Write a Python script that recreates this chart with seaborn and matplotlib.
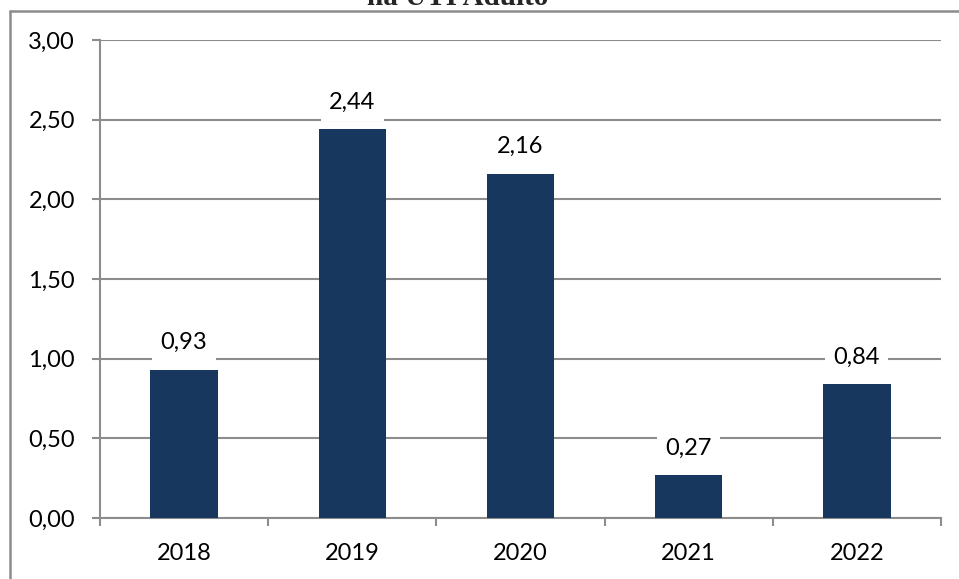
import matplotlib
matplotlib.use("Agg")
import matplotlib.pyplot as plt
from matplotlib.lines import Line2D
from matplotlib.ticker import FixedLocator, FuncFormatter
import seaborn as sns
import pandas as pd

# Data
years = ["2018", "2019", "2020", "2021", "2022"]
rates = [0.93, 2.44, 2.16, 0.27, 0.84]
title_text = "na UTI Adulto"

BAR_COLOR = "#17375E"
GRID_COLOR = "#8C8C8C"
FS = 17

sns.set_theme(style="white")
plt.rcParams["font.family"] = ["Lato", "DejaVu Sans"]

df = pd.DataFrame({"ano": years, "taxa": rates})

fig = plt.figure(figsize=(9.59, 5.79), dpi=100)
ax = fig.add_axes([100 / 959, 1 - 518 / 579, 841 / 959, 478 / 579])

sns.barplot(data=df, x="ano", y="taxa", color=BAR_COLOR, width=0.4,
            saturation=1, linewidth=0, ax=ax, zorder=3)

ax.set_xlim(-0.5, len(years) - 0.5)
ax.set_ylim(0, 3.0)
ax.set_yticks([0, 0.5, 1.0, 1.5, 2.0, 2.5, 3.0])
ax.yaxis.set_major_formatter(FuncFormatter(lambda v, _: f"{v:.2f}".replace(".", ",")))
ax.set_xlabel("")
ax.set_ylabel("")

# horizontal gridlines
ax.grid(axis="y", color=GRID_COLOR, linewidth=1.5, zorder=0)
ax.grid(axis="x", visible=False)

for side in ["top", "right"]:
    ax.spines[side].set_visible(False)
for side in ["left", "bottom"]:
    ax.spines[side].set_color(GRID_COLOR)
    ax.spines[side].set_linewidth(1.5)

# tick marks between categories
ax.xaxis.set_minor_locator(FixedLocator([i - 0.5 for i in range(len(years) + 1)]))
ax.tick_params(axis="x", which="major", length=0, pad=18, labelsize=FS, colors="black")
ax.tick_params(axis="x", which="minor", length=6, width=1.5, color=GRID_COLOR, direction="out")
ax.tick_params(axis="y", length=6, width=1.5, color=GRID_COLOR, pad=12,
               labelsize=FS, labelcolor="black", direction="out")
ax.tick_params(bottom=True, left=True, which="both")

# value labels on white boxes above each bar
for i, v in enumerate(rates):
    ax.annotate(f"{v:.2f}".replace(".", ","), xy=(i, v), xytext=(0, 19.5),
                textcoords="offset points", ha="center", va="center",
                fontsize=FS, color="black", zorder=5,
                bbox=dict(boxstyle="square,pad=0.35", fc="white", ec="none"))

# outer frame
fig.add_artist(Line2D([10 / 959, 10 / 959], [0, 1 - 11 / 579],
                      transform=fig.transFigure, color=GRID_COLOR, linewidth=1.8))
fig.add_artist(Line2D([10 / 959, 1], [1 - 11 / 579, 1 - 11 / 579],
                      transform=fig.transFigure, color=GRID_COLOR, linewidth=1.8))

# title, partly above the canvas edge
fig.text(458 / 959, 1 - 5 / 579, title_text, ha="center", va="baseline",
         fontsize=21, fontweight="bold", family=["Liberation Serif", "DejaVu Serif"])

fig.savefig("out.png", dpi=100, facecolor="white")
